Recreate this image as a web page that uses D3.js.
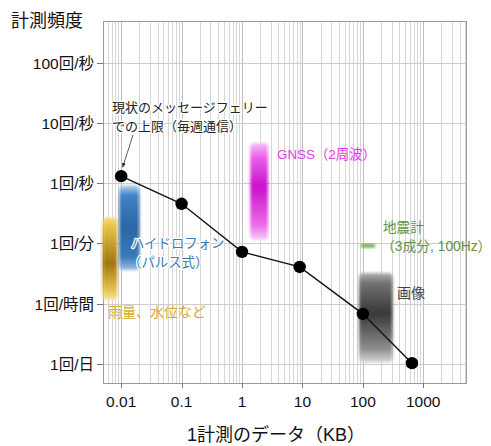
<!DOCTYPE html>
<html>
<head>
<meta charset="utf-8">
<script src="https://cdn.jsdelivr.net/npm/d3@7"></script>
<style>
  body { margin: 0; background: #fff; }
  text { font-family: "Liberation Sans", "Noto Sans CJK JP", sans-serif; }
</style>
</head>
<body>
<div id="chart"></div>
<script>
// y axis is an ordered list of frequencies, drawn evenly spaced
var yLabels = ["100回/秒", "10回/秒", "1回/秒", "1回/分", "1回/時間", "1回/日"];
var xTicks = [0.01, 0.1, 1, 10, 100, 1000];
var xTickLabels = ["0.01", "0.1", "1", "10", "100", "1000"];

// message ferry limit line (KB per measurement, frequency level)
var lineKB = [0.01, 0.1, 1, 9, 100, 650];
var lineLevel = [1.88, 2.34, 3.14, 3.39, 4.17, 4.99];

// sensor bands: KB range and frequency level range
var bandNames = ["rain", "hydro", "gnss", "seis", "image"];
var bandKB = [[0.0049, 0.0086], [0.0093, 0.02], [1.37, 2.7], [93, 160], [87, 310]];
var bandLevel = [[2.57, 3.94], [2.03, 3.44], [1.33, 2.94], [3.0, 3.07], [3.49, 4.98]];

var margin = { top: 21, right: 25, bottom: 63, left: 103 },
    outerWidth = 491,
    outerHeight = 446,
    width = outerWidth - margin.left - margin.right,
    height = outerHeight - margin.top - margin.bottom;

var svg = d3.select("#chart").append("svg")
    .attr("width", outerWidth)
    .attr("height", outerHeight);

var x = d3.scaleLog()
    .domain([0.005, 5100])
    .range([0, width]);

var y = d3.scaleLinear()
    .domain([-0.7, 5.32])
    .range([0, height]);

var defs = svg.append("defs");
defs.append("filter")
    .attr("id", "blur")
    .attr("x", "-30%").attr("y", "-10%")
    .attr("width", "160%").attr("height", "120%")
  .append("feGaussianBlur")
    .attr("stdDeviation", 1.8);

var gradStops = {
  rain:  [[0, "#f6dc78"], [0.12, "#e8c048"], [0.55, "#a0760f"], [0.85, "#e2ba44"], [1, "#f8e498"]],
  hydro: [[0, "#bcd6f0"], [0.12, "#4282c4"], [0.5, "#2a66a4"], [0.85, "#3a7aba"], [1, "#9cbee2"]],
  gnss:  [[0, "#f6c0f6"], [0.15, "#e860e8"], [0.45, "#cc10cc"], [0.85, "#ea6cea"], [1, "#f8cef8"]],
  seis:  [[0, "#74ac52"], [1, "#74ac52"]],
  image: [[0, "#b0b0b0"], [0.12, "#707070"], [0.45, "#383838"], [0.85, "#8e8e8e"], [1, "#d8d8d8"]]
};

bandNames.forEach(function(n) {
  var g = defs.append("linearGradient")
      .attr("id", "grad-" + n)
      .attr("x1", 0).attr("y1", 0).attr("x2", 0).attr("y2", 1);
  gradStops[n].forEach(function(s) {
    g.append("stop").attr("offset", s[0]).attr("stop-color", s[1]);
  });
});

var plot = svg.append("g")
    .attr("transform", "translate(" + margin.left + "," + margin.top + ")");

// vertical log grid
var gridX = [];
for (var e = -3; e <= 3; e++) {
  for (var k = 1; k <= 9; k++) {
    var v = k * Math.pow(10, e);
    if (v > 0.005 && v < 5100) gridX.push(v);
  }
}

plot.append("g")
  .selectAll("line")
    .data(gridX)
  .enter().append("line")
    .attr("x1", d => Math.round(x(d)) + 0.5)
    .attr("x2", d => Math.round(x(d)) + 0.5)
    .attr("y1", 0)
    .attr("y2", height)
    .attr("stroke", d => xTicks.indexOf(d) >= 0 ? "#bdbdbd" : "#d6d6d6")
    .attr("stroke-width", 1);

plot.append("g")
  .selectAll("line")
    .data(d3.range(yLabels.length))
  .enter().append("line")
    .attr("x1", 0)
    .attr("x2", width)
    .attr("y1", d => Math.round(y(d)) + 0.5)
    .attr("y2", d => Math.round(y(d)) + 0.5)
    .attr("stroke", "#cccccc");

// frame
plot.append("rect")
    .attr("x", 0.5).attr("y", 0.5)
    .attr("width", width).attr("height", height)
    .attr("fill", "none")
    .attr("stroke", "#9a9a9a");

// y ticks and labels
var yAxis = plot.append("g");
yAxis.selectAll("line")
    .data(d3.range(yLabels.length))
  .enter().append("line")
    .attr("x1", -6).attr("x2", 0)
    .attr("y1", d => Math.round(y(d)) + 0.5)
    .attr("y2", d => Math.round(y(d)) + 0.5)
    .attr("stroke", "#777");
yAxis.selectAll("text")
    .data(yLabels)
  .enter().append("text")
    .attr("x", -9)
    .attr("y", (d, i) => y(i) + 6)
    .attr("text-anchor", "end")
    .attr("font-size", "15.5px")
    .attr("fill", "#111")
    .text(d => d);

// x ticks and labels
var xAxis = plot.append("g").attr("transform", "translate(0," + height + ")");
xAxis.selectAll("line")
    .data(xTicks)
  .enter().append("line")
    .attr("x1", d => Math.round(x(d)) + 0.5)
    .attr("x2", d => Math.round(x(d)) + 0.5)
    .attr("y1", 0).attr("y2", 5)
    .attr("stroke", "#777");
xAxis.selectAll("text")
    .data(xTicks)
  .enter().append("text")
    .attr("x", d => x(d))
    .attr("y", 24)
    .attr("text-anchor", "middle")
    .attr("font-size", "15.5px")
    .attr("fill", "#111")
    .text((d, i) => xTickLabels[i]);

// sensor bands
plot.append("g")
  .selectAll("rect")
    .data(bandNames)
  .enter().append("rect")
    .attr("x", (d, i) => x(bandKB[i][0]))
    .attr("y", (d, i) => y(bandLevel[i][0]))
    .attr("width", (d, i) => x(bandKB[i][1]) - x(bandKB[i][0]))
    .attr("height", (d, i) => y(bandLevel[i][1]) - y(bandLevel[i][0]))
    .attr("rx", d => d == "seis" ? 1 : 4)
    .attr("fill", d => "url(#grad-" + d + ")")
    .attr("filter", "url(#blur)");

// limit line
var pts = lineKB.map((d, i) => [x(d), y(lineLevel[i])]);
plot.append("path")
    .attr("d", d3.line()(pts))
    .attr("fill", "none")
    .attr("stroke", "#111")
    .attr("stroke-width", 1.4);
plot.append("g")
  .selectAll("circle")
    .data(pts)
  .enter().append("circle")
    .attr("cx", d => d[0])
    .attr("cy", d => d[1])
    .attr("r", 6.2)
    .attr("fill", "#000");

// annotation arrow
defs.append("marker")
    .attr("id", "arrow")
    .attr("viewBox", "0 0 10 10")
    .attr("refX", 9).attr("refY", 5)
    .attr("markerWidth", 6).attr("markerHeight", 6)
    .attr("orient", "auto")
  .append("path")
    .attr("d", "M0,1 L10,5 L0,9 z")
    .attr("fill", "#222");

plot.append("line")
    .attr("x1", 133 - margin.left).attr("y1", 135 - margin.top)
    .attr("x2", pts[0][0] + 1.5).attr("y2", pts[0][1] - 9)
    .attr("stroke", "#333")
    .attr("stroke-width", 0.8)
    .attr("marker-end", "url(#arrow)");

// texts (absolute positions)
function label(str, tx, ty, size, color, halo) {
  var t = svg.append("text")
      .attr("x", tx).attr("y", ty)
      .attr("font-size", size)
      .attr("fill", color)
      .text(str);
  if (halo) {
    t.attr("stroke", "#fff").attr("stroke-width", 2.5)
     .attr("stroke-linejoin", "round").attr("paint-order", "stroke");
  }
  return t;
}

label("計測頻度", 11, 27, "18px", "#111");
label("現状のメッセージフェリー", 112, 112, "13px", "#222", true);
label("での上限（毎週通信）", 112, 131, "13px", "#222", true);
label("ハイドロフォン", 131, 248, "13.4px", "#4576b4", true);
label("（パルス式）", 128, 267, "13.4px", "#4576b4", true);
label("雨量、水位など", 108, 317, "14px", "#d6aa30");
label("GNSS（2周波）", 277, 159, "13.4px", "#e040e0");
label("地震計", 383, 232, "13.6px", "#5f9248");
label("（3成分, 100Hz）", 381, 251, "13.8px", "#5f9248");
label("画像", 397, 298, "14px", "#444");

svg.append("text")
    .attr("x", 276)
    .attr("y", 441)
    .attr("text-anchor", "middle")
    .attr("font-size", "18px")
    .attr("fill", "#111")
    .text("1計測のデータ（KB）");
</script>
</body>
</html>
